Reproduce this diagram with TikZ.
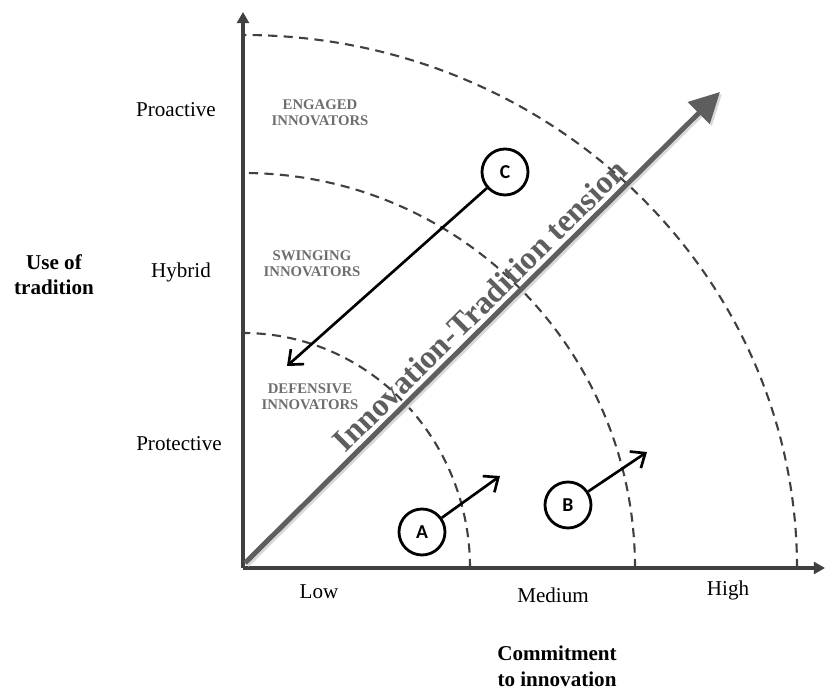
\documentclass[tikz,border=0pt]{standalone}
\usepackage{fontspec}
\setmainfont{Liberation Serif}
\newfontfamily\letterfont{Carlito}
\usepackage{tikz}
\usetikzlibrary{arrows.meta}

\definecolor{axisgray}{HTML}{404040}
\definecolor{tensiongray}{HTML}{5E5E5E}
\definecolor{groupgray}{HTML}{6E6E6E}

\begin{document}
\begin{tikzpicture}
\useasboundingbox (0,0) rectangle (20.675,17.275);
\coordinate (O) at (6.075,3.075);
\coordinate (ytop) at (6.075,16.975);
\coordinate (xend) at (20.625,3.075);
\coordinate (ts) at (6.125,3.2);
\coordinate (te) at (18.0,14.975);

% zones
\begin{scope}[zone/.style={draw=axisgray,line width=1.5pt,dash pattern=on 6.5pt off 4.5pt}]
    \draw [zone] (O) ++(5.675,0) arc[start angle=0,end angle=90,x radius=5.675,y radius=5.875];
    \draw [zone] (O) ++(9.8,0) arc[start angle=0,end angle=90,x radius=9.8,y radius=9.875];
    \draw [zone] (O) ++(13.85,0) arc[start angle=0,end angle=90,x radius=13.85,y radius=13.325];
\end{scope}

% axes
\begin{scope}[axis/.style={draw=axisgray,line width=2.4pt,-{Triangle[length=2.8mm,width=3mm]}}]
    \path (O) edge [axis] (ytop);
    \path (O) edge [axis] (xend);
\end{scope}

% tension arrow
\draw [gray!30,line width=3.5pt,-{Triangle[length=7.5mm,width=7.5mm]}] ([shift={(0.05,-0.05)}]ts) -- ([shift={(0.05,-0.05)}]te);
\draw [tensiongray,line width=3.5pt,-{Triangle[length=7.5mm,width=7.5mm]}] (ts) -- (te);
\path (ts) -- (te) node [pos=0.52,sloped,above=1pt,text=tensiongray,font=\bfseries\fontsize{23}{23}\selectfont] (tension) {Innovation-Tradition tension};

% axis labels
\begin{scope}[every node/.style={font=\fontsize{15}{18}\selectfont,align=center}]
    \node (proactive) at (4.4,14.525) {Proactive};
    \node (hybrid) at (4.525,10.475) {Hybrid};
    \node (protective) at (4.475,6.175) {Protective};
    \node (low) at (7.975,2.475) {Low};
    \node (medium) at (13.825,2.4) {Medium};
    \node (high) at (18.2,2.525) {High};
    \node [font=\bfseries\fontsize{15}{18}\selectfont] (usetrad) at (1.35,10.4) {Use of\\tradition};
    \node [font=\bfseries\fontsize{15}{18}\selectfont] (commit) at (13.925,0.62) {Commitment\\to innovation};
\end{scope}

% groups
\begin{scope}[every node/.style={font=\bfseries\fontsize{10.5}{11.5}\selectfont,text=groupgray,align=center}]
    \node (engaged) at (8.0,14.45) {ENGAGED\\INNOVATORS};
    \node (swinging) at (7.8,10.675) {SWINGING\\INNOVATORS};
    \node (defensive) at (7.75,7.35) {DEFENSIVE\\INNOVATORS};
\end{scope}

% firms
\begin{scope}[every node/.style={circle,draw,line width=2pt,minimum size=1.15cm,inner sep=0pt,font=\letterfont\bfseries\fontsize{14}{14}\selectfont}]
    \node (C) at (12.625,12.975) {C};
    \node (A) at (10.55,3.975) {A};
    \node (B) at (14.2,4.65) {B};
\end{scope}
\coordinate (Ctip) at (7.175,8.125);
\coordinate (Atip) at (12.5,5.375);
\coordinate (Btip) at (16.175,5.975);
\begin{scope}[>={Straight Barb[length=3mm,width=5mm]},
              move/.style={draw=black,line width=1.9pt}]
    \path [->] (C) edge [move] (Ctip);
    \path [->] (A) edge [move] (Atip);
    \path [->] (B) edge [move] (Btip);
\end{scope}
\end{tikzpicture}
\end{document}
